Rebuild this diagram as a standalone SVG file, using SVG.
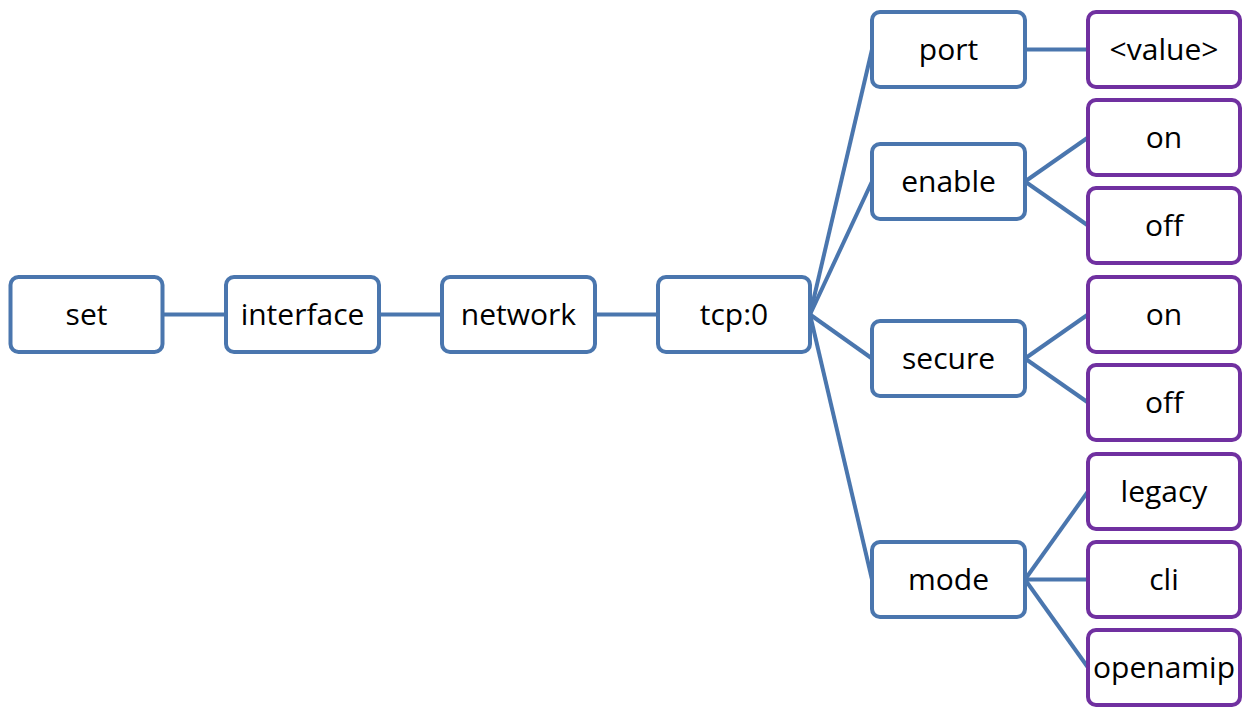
<svg xmlns="http://www.w3.org/2000/svg" width="1243" height="707" viewBox="0 0 1243 707">
<style>
.b{fill:#fff;stroke:#4A76AE;stroke-width:4}
.p{fill:#fff;stroke:#7030A0;stroke-width:4}
text{font-family:"Open Sans","Noto Sans","Liberation Sans",sans-serif;font-size:30px;fill:#000;text-anchor:middle}
#connectors line{stroke:#4A76AE;stroke-width:4}
</style>
<rect width="1243" height="707" fill="#fff"/>
<g id="connectors">
<line x1="162" y1="314.5" x2="226" y2="314.5"/>
<line x1="379" y1="314.5" x2="442" y2="314.5"/>
<line x1="595" y1="314.5" x2="658" y2="314.5"/>
<line x1="810" y1="314.5" x2="872" y2="49.5"/>
<line x1="810" y1="314.5" x2="872" y2="181.5"/>
<line x1="810" y1="314.5" x2="872" y2="358.5"/>
<line x1="810" y1="314.5" x2="872" y2="579.5"/>
<line x1="1025" y1="49.5" x2="1088" y2="49.5"/>
<line x1="1025" y1="181.5" x2="1088" y2="137.5"/>
<line x1="1025" y1="181.5" x2="1088" y2="225.5"/>
<line x1="1025" y1="358.5" x2="1088" y2="314.5"/>
<line x1="1025" y1="358.5" x2="1088" y2="402.5"/>
<line x1="1025" y1="579.5" x2="1088" y2="491.5"/>
<line x1="1025" y1="579.5" x2="1088" y2="579.5"/>
<line x1="1025" y1="579.5" x2="1088" y2="667.5"/>
</g>
<g id="set"><rect class="b" x="10.5" y="277" width="152" height="75" rx="8"/><text x="86.5" y="325">set</text></g>
<g id="interface"><rect class="b" x="226" y="277" width="153" height="75" rx="8"/><text x="302.5" y="325">interface</text></g>
<g id="network"><rect class="b" x="442" y="277" width="153" height="75" rx="8"/><text x="518.5" y="325">network</text></g>
<g id="tcp0"><rect class="b" x="658" y="277" width="152" height="75" rx="8"/><text x="734" y="325">tcp:0</text></g>
<g id="port"><rect class="b" x="872" y="12" width="153" height="75" rx="8"/><text x="948.5" y="60">port</text></g>
<g id="enable"><rect class="b" x="872" y="144" width="153" height="75" rx="8"/><text x="948.5" y="192">enable</text></g>
<g id="secure"><rect class="b" x="872" y="321" width="153" height="75" rx="8"/><text x="948.5" y="369">secure</text></g>
<g id="mode"><rect class="b" x="872" y="542" width="153" height="75" rx="8"/><text x="948.5" y="590">mode</text></g>
<g id="value"><rect class="p" x="1088" y="12" width="152" height="75" rx="8"/><text x="1164" y="60">&lt;value&gt;</text></g>
<g id="enable-on"><rect class="p" x="1088" y="100" width="152" height="75" rx="8"/><text x="1164" y="148">on</text></g>
<g id="enable-off"><rect class="p" x="1088" y="188" width="152" height="75" rx="8"/><text x="1164" y="236">off</text></g>
<g id="secure-on"><rect class="p" x="1088" y="277" width="152" height="75" rx="8"/><text x="1164" y="325">on</text></g>
<g id="secure-off"><rect class="p" x="1088" y="365" width="152" height="75" rx="8"/><text x="1164" y="413">off</text></g>
<g id="legacy"><rect class="p" x="1088" y="454" width="152" height="75" rx="8"/><text x="1164" y="502">legacy</text></g>
<g id="cli"><rect class="p" x="1088" y="542" width="152" height="75" rx="8"/><text x="1164" y="590">cli</text></g>
<g id="openamip"><rect class="p" x="1088" y="630" width="152" height="75" rx="8"/><text x="1164" y="678">openamip</text></g>
</svg>
